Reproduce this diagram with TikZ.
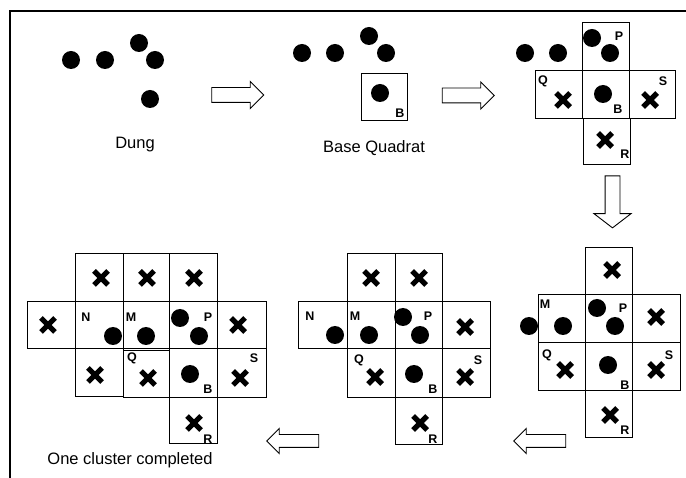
\documentclass[tikz,border=0pt]{standalone}
\usepackage{fontspec}
\setmainfont{Liberation Sans}
\usepackage{tikz}
\usetikzlibrary{arrows.meta,positioning,shapes.arrows}

\begin{document}
\begin{tikzpicture}[
  x=1pt, y=-1pt,
  cell/.style={draw, line width=0.9pt},
  dung/.style={fill=black},
  xmark/.style={line width=5.3pt},
  tag/.style={font=\fontsize{12.5}{13}\selectfont\bfseries, inner sep=0pt},
  caption/.style={font=\fontsize{16.5}{19}\selectfont, inner sep=0pt},
  barrow/.style={draw, line width=0.9pt, fill=white, single arrow, inner sep=7pt,
    minimum height=52pt, single arrow head extend=6pt, single arrow tip angle=90}
]
\useasboundingbox (0,0) rectangle (686,478);
% frame
\draw[line width=2.6pt] (10,482) -- (10,11) -- (690,11);
% quadrats
\foreach \xa/\ya/\xb/\yb in {361/73/407/120,
  582/22/629/70, 535/70/582/118, 582/70/629/118, 629/70/675/118, 583/118/630/164,
  585/247/632/294, 538/294/585/342, 585/294/632/342, 632/294/680/342,
  538/342/585/390, 585/342/632/390, 632/342/680/390, 585/390/632/437,
  347/253/395/301, 395/253/442/301, 298/301/347/348, 347/301/395/348,
  395/301/442/348, 442/301/490/348, 347/348/395/397, 395/348/442/397,
  442/348/490/397, 395/397/442/444,
  75/253/123/301, 123/253/169/301, 169/253/217/301, 27/301/75/348,
  75/301/123/348, 123/301/169/348, 169/301/217/348, 217/301/266/348,
  75/348/123/396, 123/350/169/397, 169/348/217/397, 217/348/266/397,
  169/397/217/443}{
  \draw[cell] (\xa,\ya) rectangle (\xb,\yb);
}
% dung
\foreach \x/\y in {71/60, 105/60, 139/43, 155/60, 150/99,
  302/53, 335/53, 369/36, 386/53, 380/93,
  525/53, 558/53, 592/38, 610/53, 603/94,
  529/326, 563/326, 597/308, 615/326, 608/365,
  335/335, 369/335, 403/317, 420/335, 414/374,
  113/336, 146/336, 180/318, 199/336, 190/374}{
  \fill[dung] (\x,\y) circle (9);
}
% empty quadrats
\foreach \x/\y in {563/100, 650/100, 605/140,
  612/270, 656/317, 565/370, 656/370, 610/415,
  371/278, 419/278, 465/327, 375/377, 465/377, 420/423,
  101/278, 147/278, 194/278, 48/325, 238/325, 95/375, 148/378, 240/378, 194/423}{
  \draw[xmark] (\x-7,\y-7) -- (\x+7,\y+7) (\x-7,\y+7) -- (\x+7,\y-7);
}
% quadrat letters
\foreach \x/\y/\t [count=\i] in {400/113/B,
  619/36/P, 543/81/Q, 618/109/B, 663/81/S, 625/154/R,
  545/304/M, 623/308/P, 547/355/Q, 669/355/S, 625/385/B, 625/430/R,
  310/316/N, 355/316/M, 428/316/P, 359/360/Q, 478/360/S, 433/389/B, 433/439/R,
  86/317/N, 131/317/M, 208/317/P, 132/358/Q, 254/358/S, 208/389/B, 208/439/R}{
  \node[tag] (tag\i) at (\x,\y) {\t};
}
% captions
\node[caption] (dung) at (135,145) {Dung};
\node[caption] (base) at (374,148) {Base Quadrat};
\node[caption] (done) at (130,460) {One cluster completed};
% steps
\node[barrow] (a1) at (234,95) {};
\node[barrow] (a2) at (464.5,95.5) {};
\node[barrow, shape border rotate=270, inner sep=7pt, single arrow head extend=11pt,
  single arrow tip angle=105] (a3) at (612.5,199) {};
\node[barrow, shape border rotate=180, inner sep=6pt] (a4) at (543,441) {};
\node[barrow, shape border rotate=180, inner sep=6pt] (a5) at (296,441) {};
\end{tikzpicture}
\end{document}
